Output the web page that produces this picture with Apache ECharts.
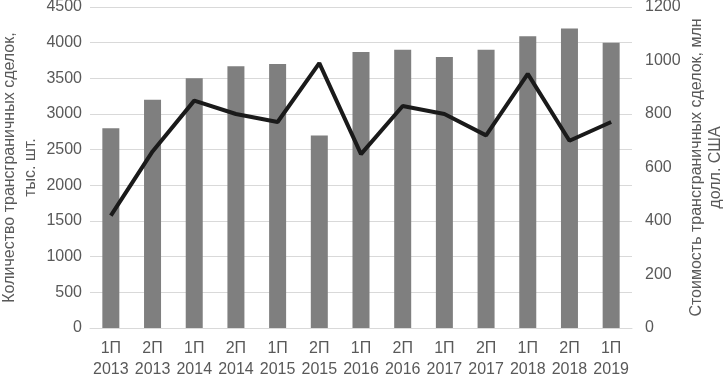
<!DOCTYPE html>
<html>
<head>
<meta charset="utf-8">
<script src="https://cdn.jsdelivr.net/npm/echarts@6/dist/echarts.min.js"></script>
<style>
html,body{margin:0;padding:0;background:#fff;}
#chart{width:728px;height:375px;}
</style>
</head>
<body>
<div id="chart"></div>
<script>
var categories = ['1П\n2013','2П\n2013','1П\n2014','2П\n2014','1П\n2015','2П\n2015','1П\n2016','2П\n2016','1П\n2017','2П\n2017','1П\n2018','2П\n2018','1П\n2019'];
var dealCount = [2800, 3200, 3500, 3670, 3700, 2700, 3870, 3900, 3800, 3900, 4090, 4200, 4000];
var dealValue = [420, 660, 850, 800, 770, 990, 650, 830, 800, 720, 950, 700, 770];

window.onload = function () {
    var chart = echarts.init(document.getElementById('chart'));
    var font = 'Liberation Sans, Arial, sans-serif';
    var plain = function (v) { return String(v); };
    chart.setOption({
        animation: false,
        textStyle: { fontFamily: font },
        grid: { left: 90, right: 96, top: 7, bottom: 47, containLabel: false, outerBoundsMode: 'none' },
        xAxis: {
            type: 'category',
            data: categories,
            axisLine: { lineStyle: { color: '#d9d9d9', width: 1 } },
            axisTick: { show: false },
            axisLabel: { color: '#595959', fontSize: 16, lineHeight: 21, margin: 10, interval: 0 }
        },
        yAxis: [{
            type: 'value',
            min: 0, max: 4500, interval: 500,
            name: 'Количество трансграничных сделок,\nтыс. шт.',
            nameLocation: 'middle',
            nameGap: 49,
            nameMoveOverlap: false,
            nameTextStyle: { color: '#595959', fontSize: 16, lineHeight: 21 },
            axisLine: { show: false },
            axisTick: { show: false },
            axisLabel: { color: '#595959', fontSize: 16, margin: 8, formatter: plain },
            splitLine: { lineStyle: { color: '#d9d9d9', width: 1 } }
        }, {
            type: 'value',
            min: 0, max: 1200, interval: 200,
            position: 'right',
            name: 'Стоимость трансграничных сделок, млн\nдолл. США',
            nameLocation: 'middle',
            nameGap: 55,
            nameRotate: 90,
            nameMoveOverlap: false,
            nameTextStyle: { color: '#595959', fontSize: 16, lineHeight: 19 },
            axisLine: { show: false },
            axisTick: { show: false },
            axisLabel: { color: '#595959', fontSize: 16, margin: 13, formatter: plain },
            splitLine: { show: false }
        }],
        series: [{
            type: 'bar',
            data: dealCount,
            barWidth: 17,
            itemStyle: { color: '#7f7f7f' },
            silent: true
        }, {
            type: 'line',
            yAxisIndex: 1,
            data: dealValue,
            symbol: 'none',
            lineStyle: { color: '#1a1a1a', width: 4 },
            silent: true
        }]
    });
};
</script>
</body>
</html>
